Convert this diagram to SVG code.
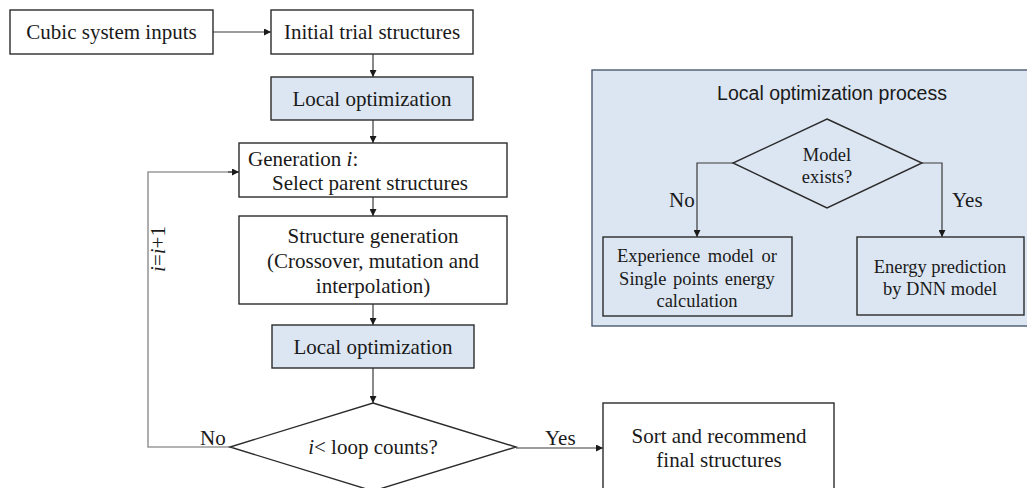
<svg xmlns="http://www.w3.org/2000/svg" width="1027" height="488" viewBox="0 0 1027 488">
<style>
.box{fill:#ffffff;stroke:#2b2b2b;stroke-width:1.4}
.blue{fill:#dce6f2;stroke:#2b2b2b;stroke-width:1.4}
.t{font-family:"Liberation Serif","Times New Roman",serif;font-size:21px;fill:#1a1a1a}
.s{font-family:"Liberation Serif","Times New Roman",serif;font-size:18.5px;fill:#1a1a1a}
.c{text-anchor:middle}
.ln{fill:none;stroke:#3a3a3a;stroke-width:1.2}
.gl{fill:none;stroke:#9a9a9a;stroke-width:1.6}
</style>
<defs>
<marker id="ah" viewBox="0 0 10 10" refX="10" refY="5" markerWidth="7" markerHeight="7" markerUnits="userSpaceOnUse" orient="auto">
<path d="M0,0 L10,5 L0,10 z" fill="#1a1a1a"/>
</marker>
</defs>
<rect id="panel-bg" x="592" y="70" width="440" height="256" fill="#dce6f2" stroke="#4a5a70" stroke-width="1.4"/>
<g id="connectors">
<line class="ln" x1="213" y1="32" x2="271" y2="32" marker-end="url(#ah)"/>
<line class="ln" x1="373" y1="54" x2="373" y2="77" marker-end="url(#ah)"/>
<line class="ln" x1="373" y1="120" x2="373" y2="143" marker-end="url(#ah)"/>
<line class="ln" x1="373" y1="197" x2="373" y2="216" marker-end="url(#ah)"/>
<line class="ln" x1="373" y1="304" x2="373" y2="325" marker-end="url(#ah)"/>
<line class="ln" x1="373" y1="368" x2="373" y2="403" marker-end="url(#ah)"/>
<polyline class="gl" points="230,447 148,447 148,172 232,172"/>
<line class="ln" x1="228" y1="172" x2="239" y2="172" marker-end="url(#ah)"/>
<line class="ln" x1="516" y1="448" x2="603" y2="448" marker-end="url(#ah)"/>
<polyline class="ln" points="733,163 697,163 697,237" marker-end="url(#ah)"/>
<polyline class="ln" points="922,163 942,163 942,237" marker-end="url(#ah)"/>
<text class="t" x="200" y="445">No</text>
<text class="t" x="545" y="445">Yes</text>
<text class="t" transform="translate(165,249) rotate(-90)" text-anchor="middle"><tspan font-style="italic">i</tspan>=<tspan font-style="italic">i</tspan>+1</text>
<text class="t" x="669" y="207" font-size="20">No</text>
<text class="t" x="952" y="207" font-size="20">Yes</text>
</g>
<g id="cubic-inputs">
<rect class="box" x="10" y="10" width="203" height="44"/>
<text class="t c" x="111.5" y="39">Cubic system inputs</text>
</g>
<g id="initial-trial">
<rect class="box" x="271" y="10" width="202" height="44"/>
<text class="t c" x="372" y="39">Initial trial structures</text>
</g>
<g id="local-opt-1">
<rect class="blue" x="271" y="77" width="202" height="43"/>
<text class="t c" x="372" y="106">Local optimization</text>
</g>
<g id="generation">
<rect class="box" x="239" y="143" width="268" height="54"/>
<text class="t" x="248" y="166">Generation <tspan font-style="italic">i</tspan>:</text>
<text class="t" x="272" y="190">Select parent structures</text>
</g>
<g id="structure-generation">
<rect class="box" x="239" y="216" width="268" height="88"/>
<text class="t c" x="373" y="243">Structure generation</text>
<text class="t c" x="373" y="268">(Crossover, mutation and</text>
<text class="t c" x="373" y="293">interpolation)</text>
</g>
<g id="local-opt-2">
<rect class="blue" x="272" y="325" width="202" height="43"/>
<text class="t c" x="373" y="354">Local optimization</text>
</g>
<g id="loop-decision">
<polygon class="box" points="373,403 516,447 373,491 230,447"/>
<text class="t c" x="373" y="454"><tspan font-style="italic">i</tspan>&lt; loop counts?</text>
</g>
<g id="sort-final">
<rect class="box" x="603" y="403" width="231" height="95"/>
<text class="t c" x="719" y="443">Sort and recommend</text>
<text class="t c" x="719" y="467">final structures</text>
</g>
<g id="local-opt-process">
<text x="832" y="100" text-anchor="middle" font-family="'Liberation Sans',Arial,sans-serif" font-size="19.5" fill="#1a1a1a">Local optimization process</text>
</g>
<g id="model-exists">
<polygon class="blue" points="827,119 922,163 827,208 733,163"/>
<text class="s c" x="827" y="161">Model</text>
<text class="s c" x="827" y="183">exists?</text>
</g>
<g id="experience-model">
<rect class="blue" x="603" y="237" width="189" height="79"/>
<text class="s c" x="697" y="262" word-spacing="3">Experience model or</text>
<text class="s c" x="697" y="285" word-spacing="2">Single points energy</text>
<text class="s c" x="697" y="307">calculation</text>
</g>
<g id="dnn-model">
<rect class="blue" x="857" y="237" width="167" height="78"/>
<text class="s c" x="940" y="273">Energy prediction</text>
<text class="s c" x="940" y="295">by DNN model</text>
</g>
</svg>
